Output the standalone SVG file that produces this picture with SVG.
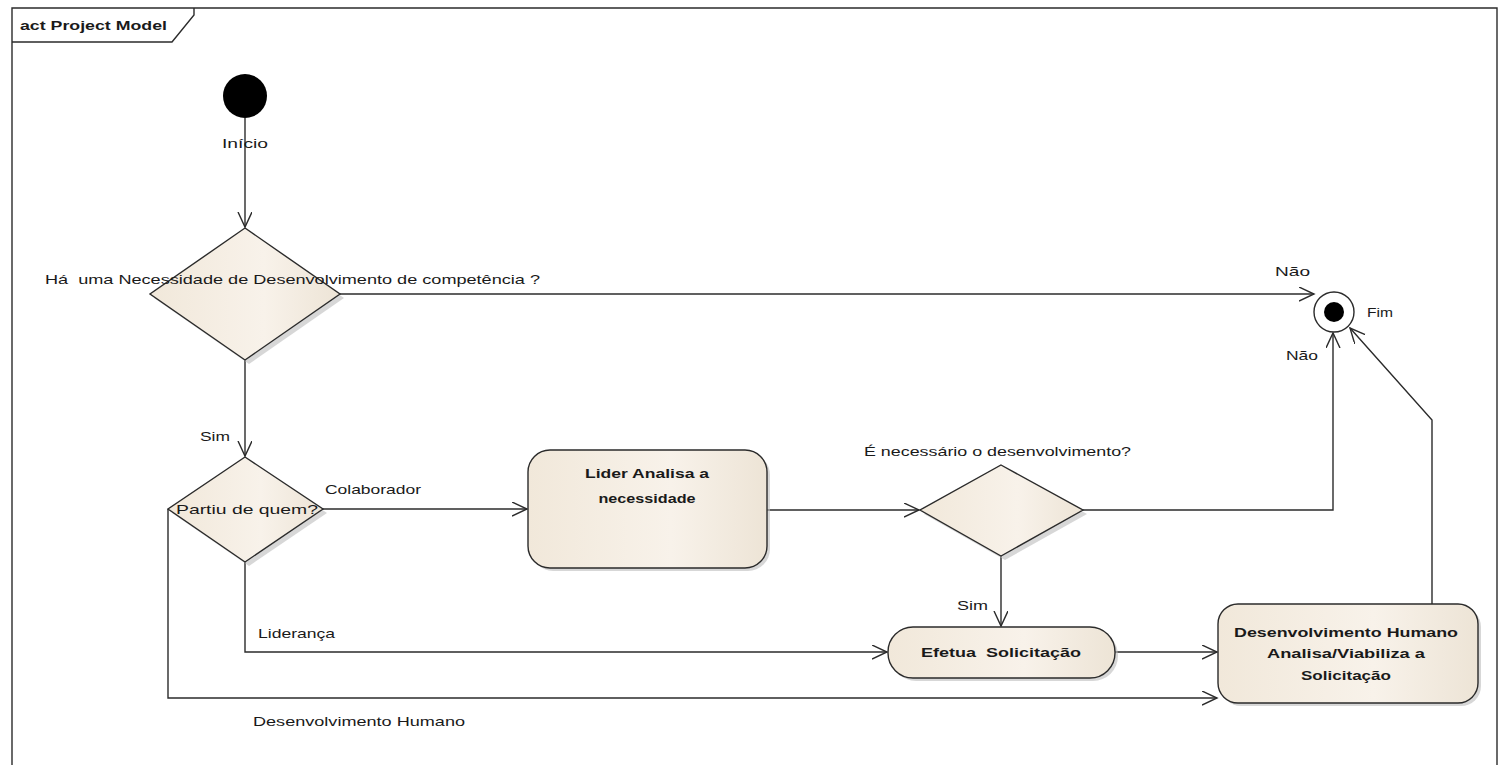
<svg xmlns="http://www.w3.org/2000/svg" width="1499" height="765" viewBox="0 0 1499 765">
<style>
text{font-family:"Liberation Sans",Arial,sans-serif;fill:#1a1a1a;font-size:13px}
.b{font-weight:bold}
.c{text-anchor:middle}
.ln{fill:none;stroke:#2b2b2b;stroke-width:1.4}
.nd{fill:url(#g);stroke:#2b2b2b;stroke-width:1.4}
.sh{fill:#bdbdbd;opacity:0.6}
</style>
<defs>
<linearGradient id="g" x1="0" y1="0" x2="1" y2="0">
<stop offset="0" stop-color="#F1E8DA"/>
<stop offset="0.6" stop-color="#F8F2EA"/>
<stop offset="1" stop-color="#EDE4D6"/>
</linearGradient>
<marker id="a" markerUnits="userSpaceOnUse" markerWidth="18" markerHeight="16" refX="15" refY="7" orient="auto">
<path d="M0,0 L15,7 L0,14" fill="none" stroke="#2b2b2b" stroke-width="1.4"/>
</marker>
</defs>
<rect width="1499" height="765" fill="#fff"/>
<g id="frame">
<path class="ln" d="M12,765 L12,8 L1497,8 L1497,765"/>
<path class="ln" d="M12,42 L172,42 L194,15 L194,8"/>
<text x="20" y="30" class="b" textLength="147" lengthAdjust="spacingAndGlyphs">act Project Model</text>
</g>
<g id="connectors">
<path class="ln" marker-end="url(#a)" d="M245,118 L245,227"/>
<path class="ln" marker-end="url(#a)" d="M340,294 L1314,294"/>
<path class="ln" marker-end="url(#a)" d="M245,360 L245,456"/>
<path class="ln" marker-end="url(#a)" d="M323,509 L527,509"/>
<path class="ln" marker-end="url(#a)" d="M767,510 L919,510"/>
<path class="ln" marker-end="url(#a)" d="M1083,510 L1333,510 L1333,333"/>
<path class="ln" marker-end="url(#a)" d="M1001,556 L1001,626"/>
<path class="ln" marker-end="url(#a)" d="M245,562 L245,652 L887,652"/>
<path class="ln" marker-end="url(#a)" d="M1115,652 L1217,652"/>
<path class="ln" marker-end="url(#a)" d="M168,509 L168,698 L1217,698"/>
<path class="ln" marker-end="url(#a)" d="M1432,604 L1432,420 L1350,328"/>
<text x="222" y="148" textLength="46" lengthAdjust="spacingAndGlyphs">Início</text>
<text x="1275" y="276" textLength="35" lengthAdjust="spacingAndGlyphs">Não</text>
<text x="1286" y="360" textLength="32" lengthAdjust="spacingAndGlyphs">Não</text>
<text x="200" y="441" textLength="30" lengthAdjust="spacingAndGlyphs">Sim</text>
<text x="325" y="494" textLength="96" lengthAdjust="spacingAndGlyphs">Colaborador</text>
<text x="957" y="610" textLength="31" lengthAdjust="spacingAndGlyphs">Sim</text>
<text x="258" y="638" textLength="77" lengthAdjust="spacingAndGlyphs">Liderança</text>
<text x="253" y="726" textLength="212" lengthAdjust="spacingAndGlyphs">Desenvolvimento Humano</text>
</g>
<g id="start">
<circle cx="245" cy="96" r="22" fill="#000"/>
</g>
<g id="decision1">
<polygon class="sh" points="249,232 344,298 249,364 154,298"/>
<polygon class="nd" points="245,228 340,294 245,360 150,294"/>
<text x="45" y="284" textLength="495" lengthAdjust="spacingAndGlyphs" xml:space="preserve">Há  uma Necessidade de Desenvolvimento de competência ?</text>
</g>
<g id="decision2">
<polygon class="sh" points="249,461 327,513 249,566 172,513"/>
<polygon class="nd" points="245,457 323,509 245,562 168,509"/>
<text x="176" y="514" textLength="142" lengthAdjust="spacingAndGlyphs">Partiu de quem?</text>
</g>
<g id="lider">
<rect class="sh" x="531" y="453" width="239" height="118" rx="22"/>
<rect class="nd" x="528" y="450" width="239" height="118" rx="22"/>
<text x="647" y="478" class="b c" textLength="124" lengthAdjust="spacingAndGlyphs">Lider Analisa a</text>
<text x="647" y="503" class="b c" textLength="97" lengthAdjust="spacingAndGlyphs">necessidade</text>
</g>
<g id="decision3">
<polygon class="sh" points="1005,469 1087,514 1005,560 924,514"/>
<polygon class="nd" points="1001,465 1083,510 1001,556 920,510"/>
<text x="864" y="456" textLength="267" lengthAdjust="spacingAndGlyphs">É necessário o desenvolvimento?</text>
</g>
<g id="efetua">
<rect class="sh" x="891" y="630" width="227" height="51" rx="25"/>
<rect class="nd" x="888" y="627" width="227" height="51" rx="25"/>
<text x="1001" y="657" class="b c" textLength="160" lengthAdjust="spacingAndGlyphs" xml:space="preserve">Efetua  Solicitação</text>
</g>
<g id="dh">
<rect class="sh" x="1221" y="607" width="260" height="99" rx="20"/>
<rect class="nd" x="1218" y="604" width="260" height="99" rx="20"/>
<text x="1346" y="637" class="b c" textLength="224" lengthAdjust="spacingAndGlyphs">Desenvolvimento Humano</text>
<text x="1346" y="658" class="b c" textLength="158" lengthAdjust="spacingAndGlyphs">Analisa/Viabiliza a</text>
<text x="1346" y="680" class="b c" textLength="90" lengthAdjust="spacingAndGlyphs">Solicitação</text>
</g>
<g id="fim">
<circle cx="1334" cy="312" r="20" fill="#fff" stroke="#2b2b2b" stroke-width="1.4"/>
<circle cx="1334" cy="312" r="10" fill="#000"/>
<text x="1367" y="317" textLength="26" lengthAdjust="spacingAndGlyphs">Fim</text>
</g>
</svg>
